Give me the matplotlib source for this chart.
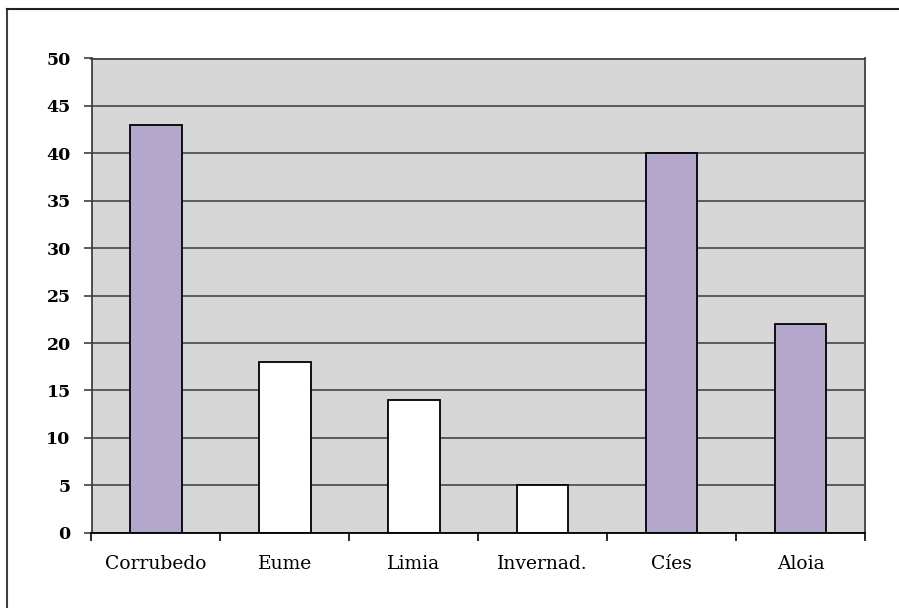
import matplotlib
matplotlib.use("Agg")
import matplotlib.pyplot as plt
from matplotlib.lines import Line2D
import numpy as np

categories = ["Corrubedo", "Eume", "Limia", "Invernad.", "Cíes", "Aloia"]
values = [43, 18, 14, 5, 40, 22]
bar_colors = ["#B3A8CC", "#FFFFFF", "#FFFFFF", "#FFFFFF", "#B3A8CC", "#B3A8CC"]
yticks = [0, 5, 10, 15, 20, 25, 30, 35, 40, 45, 50]

W, H = 899, 608
fig = plt.figure(figsize=(W / 100, H / 100), dpi=100)
fig.patch.set_facecolor("white")

ax = fig.add_axes([91.5 / W, (H - 532.7) / H, 773.5 / W, (532.7 - 58.5) / H])
ax.set_facecolor("#D7D7D7")

x = np.arange(len(categories))
ax.bar(x, values, width=0.4, color=bar_colors, edgecolor="black", linewidth=1.3, zorder=3)

ax.set_xlim(-0.5, len(categories) - 0.5)
ax.set_ylim(0, 50)
ax.set_yticks(yticks)
ax.set_yticklabels([str(v) for v in yticks], fontfamily="DejaVu Serif",
                   fontweight="bold", fontsize=12.5)
ax.yaxis.grid(True, color="#505050", linewidth=1.3, zorder=1)
ax.set_axisbelow(True)

ax.set_xticks(x)
ax.set_xticklabels(categories, fontfamily="DejaVu Serif", fontsize=13.5)
ax.set_xticks(np.arange(-0.5, len(categories), 1.0), minor=True)
ax.tick_params(axis="x", which="major", length=0, pad=16)
ax.tick_params(axis="x", which="minor", length=6, width=1.2, color="black", direction="out")
ax.tick_params(axis="y", which="major", length=6, width=1.2, color="#404040",
               direction="out", pad=9)

for side in ["top", "left", "right"]:
    ax.spines[side].set_color("#404040")
    ax.spines[side].set_linewidth(1.3)
ax.spines["bottom"].set_color("black")
ax.spines["bottom"].set_linewidth(1.3)
ax.spines["bottom"].set_zorder(4)

# outer frame (left and top edges)
fig.add_artist(Line2D([7 / W, 7 / W], [0, 1 - 9 / H], color="#404040", linewidth=1.5,
                      transform=fig.transFigure))
fig.add_artist(Line2D([7 / W, 1], [1 - 9 / H, 1 - 9 / H], color="#202020", linewidth=1.5,
                      transform=fig.transFigure))

fig.savefig("out.png", dpi=100)
